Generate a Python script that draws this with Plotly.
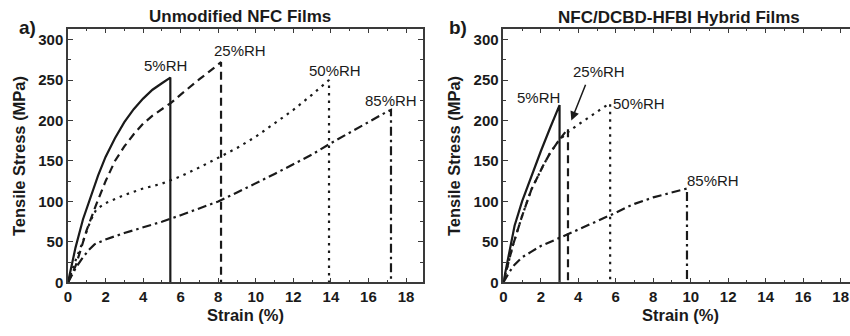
import plotly.graph_objects as go

# ---------------- Data ----------------
# Panel a) Unmodified NFC Films
a5_x = [0, 0.4, 0.8, 1.2, 1.6, 2.0, 2.5, 3.0, 3.5, 4.0, 4.5, 5.0, 5.45, 5.45]
a5_y = [0, 43, 78, 106, 132, 155, 178, 198, 214, 227, 238, 246, 253, 0]

a25_x = [0, 0.4, 0.7, 1.0, 1.5, 2.0, 2.5, 3.0, 3.5, 4.0, 4.5, 5.0, 5.5, 6.0, 6.5, 7.0, 7.5, 8.15, 8.15]
a25_y = [0, 20, 42, 65, 96, 125, 150, 168, 183, 196, 206, 214, 222, 232, 242, 251, 260, 272, 0]

a50_x = [0, 0.4, 0.8, 1.2, 1.5, 2, 3, 4, 5, 6, 7, 8, 9, 10, 11, 12, 13, 13.9, 13.9]
a50_y = [0, 27, 51, 76, 90, 98, 108, 116, 122, 131, 142, 154, 166, 180, 196, 213, 232, 250, 0]

a85_x = [0, 0.44, 0.8, 1.1, 1.41, 2, 3, 4, 5, 6, 7, 8, 9, 10, 11, 12, 13, 14, 15, 16, 17, 17.2, 17.2]
a85_y = [0, 19, 31, 40, 47, 53, 61, 68, 75, 83, 92, 100, 111, 122, 134, 146, 158, 172, 185, 199, 211, 213, 0]

# Panel b) NFC/DCBD-HFBI Hybrid Films
b5_x = [0, 0.3, 0.6, 1.0, 1.5, 2.0, 2.5, 3.0, 3.0]
b5_y = [0, 36, 70, 100, 132, 162, 191, 219, 0]

b25_x = [0, 0.5, 1.0, 1.5, 2.12, 2.5, 2.92, 3.2, 3.45, 3.45]
b25_y = [0, 45, 82, 115, 144, 160, 174, 183, 190, 0]

b50_x = [0, 0.5, 1.0, 1.5, 2.12, 2.5, 2.92, 3.4, 4.0, 4.5, 5.0, 5.4, 5.7, 5.7]
b50_y = [0, 45, 82, 115, 144, 160, 174, 185, 195, 203, 211, 217, 221, 0]

b85_x = [0, 0.3, 0.6, 1.0, 1.5, 2.0, 3.0, 3.5, 4.0, 5.0, 6.0, 6.6, 7.0, 8.0, 9.0, 9.8, 9.8]
b85_y = [0, 12, 22, 31, 38, 45, 55, 60, 65, 75, 86, 93, 97, 105, 111, 116, 0]

labels = ["5%RH", "25%RH", "50%RH", "85%RH"]
a_label_x = [5.19, 9.17, 14.2, 17.2]
a_label_y = [268, 286, 262, 225]
b_label_x = [1.87, 5.11, 7.25, 11.2]
b_label_y = [228, 261, 221, 126]

x_ticks = [0, 2, 4, 6, 8, 10, 12, 14, 16, 18]
y_ticks = [0, 50, 100, 150, 200, 250, 300]

# ---------------- Styles ----------------
FONT = "Liberation Sans, Arial, sans-serif"
INK = "#1a1a1a"
AX = "#3a3a3a"
dashes = ["solid", "8px,5px", "2.5px,5px", "9px,4px,2.5px,4px"]

fig = go.Figure()

a_series = [(a5_x, a5_y), (a25_x, a25_y), (a50_x, a50_y), (a85_x, a85_y)]
b_series = [(b5_x, b5_y), (b25_x, b25_y), (b50_x, b50_y), (b85_x, b85_y)]

for (xs, ys), d, name in zip(a_series, dashes, labels):
    fig.add_trace(go.Scatter(x=xs, y=ys, mode="lines", name=name,
                             line=dict(color=INK, width=2.2, dash=d),
                             xaxis="x", yaxis="y", showlegend=False))
for (xs, ys), d, name in zip(b_series, dashes, labels):
    fig.add_trace(go.Scatter(x=xs, y=ys, mode="lines", name=name,
                             line=dict(color=INK, width=2.2, dash=d),
                             xaxis="x2", yaxis="y2", showlegend=False))

W, H = 850, 336
ya_dom = [(H - 289.3) / H, (H - 29.3) / H]

def xax(dom, rng, mirror):
    return dict(domain=dom, range=rng, tickvals=x_ticks, ticks="inside", ticklen=5,
                tickwidth=1.3, tickcolor=AX, showline=True, linecolor=AX, linewidth=1.5,
                mirror=mirror, showgrid=False, zeroline=False,
                minor=dict(ticks="inside", dtick=1, ticklen=3, tickcolor=AX, tickwidth=1.2),
                tickfont=dict(family=FONT, size=15, color=INK, weight="bold"))

def yax(anchor, mirror):
    return dict(domain=ya_dom, range=[0, 313.5], tickvals=y_ticks, ticks="inside", ticklen=5,
                tickwidth=1.3, tickcolor=AX, showline=True, linecolor=AX, linewidth=1.5,
                mirror=mirror, showgrid=False, zeroline=False, anchor=anchor,
                minor=dict(ticks="inside", dtick=25, ticklen=3, tickcolor=AX, tickwidth=1.2),
                tickfont=dict(family=FONT, size=15, color=INK, weight="bold"))

annotations = []
for t, x, y in zip(labels, a_label_x, a_label_y):
    annotations.append(dict(text=t, x=x, y=y, xref="x", yref="y", showarrow=False,
                            font=dict(family=FONT, size=15, color=INK)))
for t, x, y in zip(labels, b_label_x, b_label_y):
    annotations.append(dict(text=t, x=x, y=y, xref="x2", yref="y2", showarrow=False,
                            font=dict(family=FONT, size=15, color=INK)))
# arrow for 25%RH in panel b
annotations.append(dict(text="", x=3.63, y=200, xref="x2", yref="y2",
                        ax=4.42, ay=246, axref="x2", ayref="y2", showarrow=True,
                        arrowhead=2, arrowsize=1.2, arrowwidth=1.5, arrowcolor=INK))

def pa(text, px, py, size, angle=0):
    return dict(text=text, x=px / W, y=1 - py / H, xref="paper", yref="paper",
                showarrow=False, textangle=angle, xanchor="center", yanchor="middle",
                font=dict(family=FONT, size=size, color=INK, weight="bold"))

annotations += [
    pa("Unmodified NFC Films", 237.5, 17, 17),
    pa("NFC/DCBD-HFBI Hybrid Films", 678, 17.5, 17),
    pa("a)", 24, 28, 19),
    pa("b)", 456, 28, 19),
    pa("Tensile Stress (MPa)", 15, 160, 16.5, -90),
    pa("Tensile Stress (MPa)", 452, 160, 16.5, -90),
    pa("Strain (%)", 243, 323, 16.5),
    pa("Strain (%)", 680, 323, 16.5),
]

fig.update_layout(
    width=W, height=H, margin=dict(l=0, r=0, t=0, b=0),
    paper_bgcolor="white", plot_bgcolor="white",
    xaxis=xax([64.3 / W, 420.7 / W], [0, 18.89], "allticks"),
    yaxis=yax("x", "allticks"),
    xaxis2=xax([501.7 / W, 1.0], [0, 18.5], "allticks"),
    yaxis2=yax("x2", False),
    annotations=annotations,
    showlegend=False,
)

fig.write_html("out.html")
